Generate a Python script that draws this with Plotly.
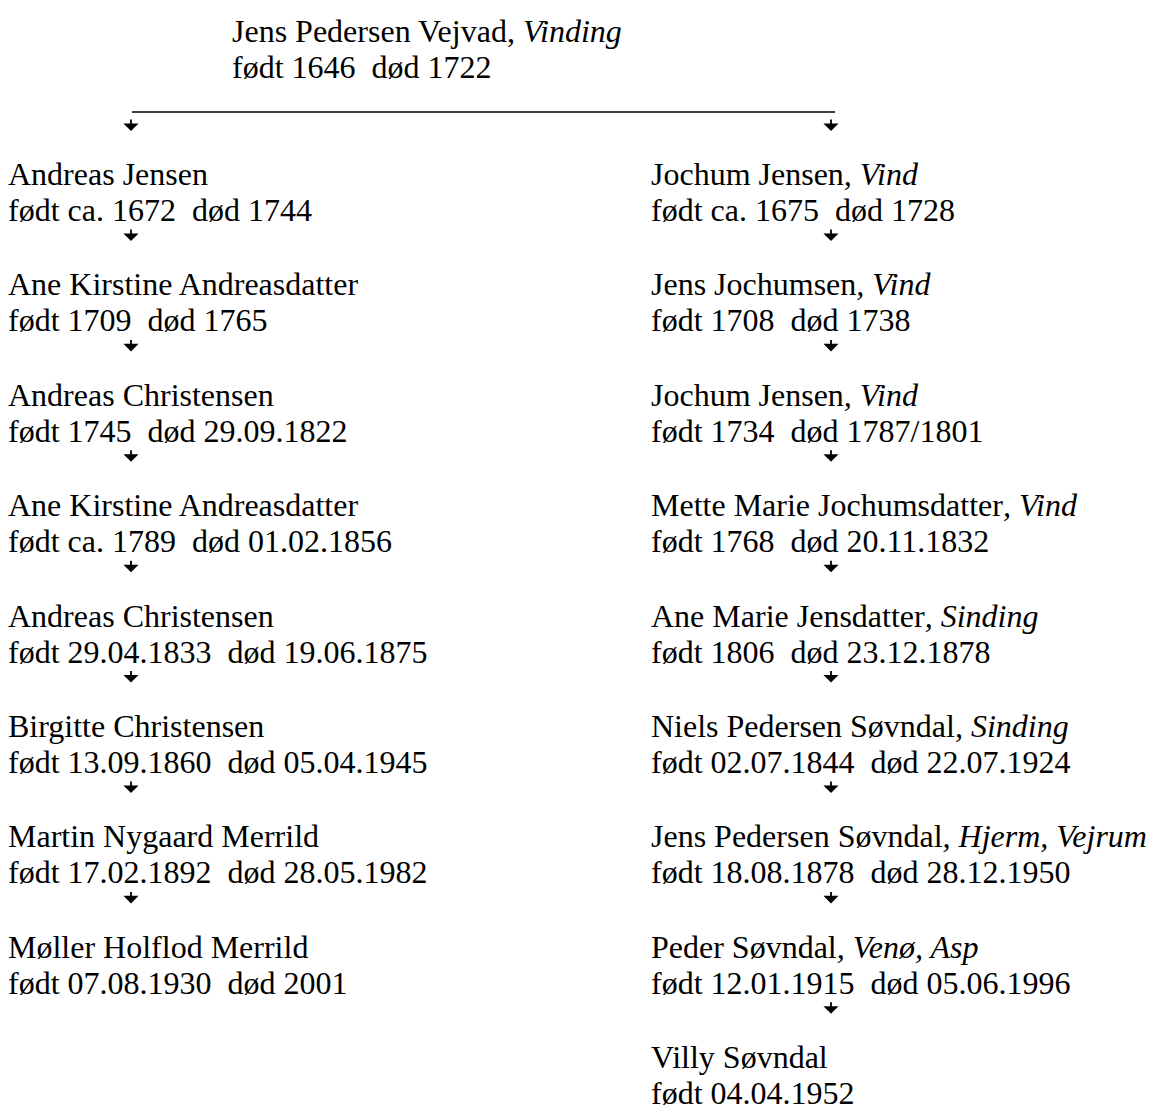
import plotly.graph_objects as go

# Stamfader
top_name = "Jens Pedersen Vejvad, <i>Vinding</i>"
top_dates = "født 1646  død 1722"

# Venstre gren
left_names = [
    "Andreas Jensen",
    "Ane Kirstine Andreasdatter",
    "Andreas Christensen",
    "Ane Kirstine Andreasdatter",
    "Andreas Christensen",
    "Birgitte Christensen",
    "Martin Nygaard Merrild",
    "Møller Holflod Merrild",
]
left_dates = [
    "født ca. 1672  død 1744",
    "født 1709  død 1765",
    "født 1745  død 29.09.1822",
    "født ca. 1789  død 01.02.1856",
    "født 29.04.1833  død 19.06.1875",
    "født 13.09.1860  død 05.04.1945",
    "født 17.02.1892  død 28.05.1982",
    "født 07.08.1930  død 2001",
]

# Højre gren
right_names = [
    "Jochum Jensen<i>, Vind</i>",
    "Jens Jochumsen<i>, Vind</i>",
    "Jochum Jensen<i>, Vind</i>",
    "Mette Marie Jochumsdatter<i>, Vind</i>",
    "Ane Marie Jensdatter<i>, Sinding</i>",
    "Niels Pedersen Søvndal<i>, Sinding</i>",
    "Jens Pedersen Søvndal<i>, Hjerm, Vejrum</i>",
    "Peder Søvndal<i>, Venø, Asp</i>",
    "Villy Søvndal",
]
right_dates = [
    "født ca. 1675  død 1728",
    "født 1708  død 1738",
    "født 1734  død 1787/1801",
    "født 1768  død 20.11.1832",
    "født 1806  død 23.12.1878",
    "født 02.07.1844  død 22.07.1924",
    "født 18.08.1878  død 28.12.1950",
    "født 12.01.1915  død 05.06.1996",
    "født 04.04.1952",
]

W, H = 1156, 1109
OFF = 8  # browserens body-margin
FONT = "Liberation Serif, Times New Roman, serif"
row0, step, gap = 177, 110.4, 36
left_x, right_x = 8, 651
left_arrow_x, right_arrow_x = 131, 831

xs, ys, txt = [], [], []
xs += [232, 232]; ys += [34, 34 + gap]; txt += [top_name, top_dates]
for col_x, names, dates in [(left_x, left_names, left_dates), (right_x, right_names, right_dates)]:
    for i, (n, d) in enumerate(zip(names, dates)):
        y = row0 + i * step
        xs += [col_x, col_x]; ys += [y, y + gap]; txt += [n, d]

ax, ay = [left_arrow_x, right_arrow_x], [131, 131]
for arr_x, names in [(left_arrow_x, left_names), (right_arrow_x, right_names)]:
    for i in range(len(names) - 1):
        ax.append(arr_x); ay.append(row0 + i * step + 64)

fig = go.Figure()
fig.add_trace(go.Scatter(x=xs, y=ys, text=txt, mode="text", textposition="middle right",
                         textfont=dict(family=FONT, size=32, color="black"),
                         hoverinfo="skip", cliponaxis=False))

for x, y in zip(ax, ay):
    fig.add_annotation(x=x, y=y, ax=0, ay=-13, showarrow=True, text="",
                       arrowhead=1, arrowsize=1.4, arrowwidth=1.8, arrowcolor="black")

fig.add_shape(type="line", x0=132, x1=835, y0=112, y1=112, line=dict(color="black", width=1.5))

fig.update_layout(
    width=W, height=H, margin=dict(l=0, r=0, t=0, b=0),
    plot_bgcolor="white", paper_bgcolor="white", showlegend=False,
    xaxis=dict(range=[OFF, W + OFF], visible=False, fixedrange=True),
    yaxis=dict(range=[H + OFF, OFF], visible=False, fixedrange=True),
)
fig.write_html("out.html")
